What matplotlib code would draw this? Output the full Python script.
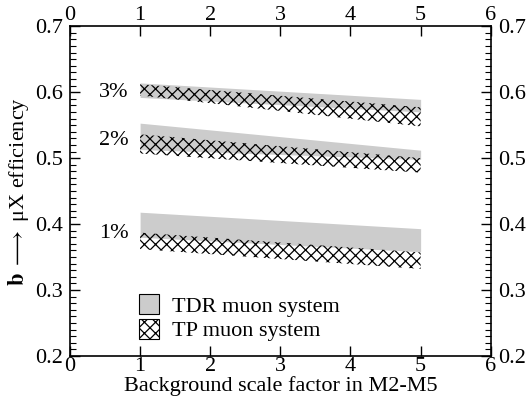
import numpy as np
import matplotlib
matplotlib.use('Agg')
import matplotlib.pyplot as plt
from matplotlib.patches import Patch
from matplotlib.ticker import MultipleLocator

plt.rcParams['font.family'] = ['Liberation Serif', 'DejaVu Serif']
plt.rcParams['mathtext.fontset'] = 'stix'
plt.rcParams['hatch.linewidth'] = 0.9

# band edges at scale factor 1 and 5
x = [1, 5]
labels = ['3%', '2%', '1%']
label_y = [0.600, 0.527, 0.386]
tdr_hi = [[0.614, 0.589], [0.553, 0.512], [0.418, 0.393]]
tdr_lo = [[0.592, 0.570], [0.513, 0.498], [0.380, 0.358]]
tp_hi = [[0.612, 0.577], [0.536, 0.500], [0.387, 0.357]]
tp_lo = [[0.595, 0.548], [0.507, 0.478], [0.362, 0.332]]

fig = plt.figure(figsize=(5.26, 4.09), dpi=100)
ax = fig.add_axes([0.133, 0.1296, 0.8, 0.8064])

for i in range(3):
    ax.fill_between(x, tdr_lo[i], tdr_hi[i], color='#cccccc', lw=0)
    ax.fill_between(x, tp_lo[i], tp_hi[i], facecolor='none', edgecolor='black',
                    hatch='xxx', lw=0)
    ax.text(0.62, label_y[i], labels[i], fontsize=16, ha='center', va='center')

ax.set_xlim(0, 6)
ax.set_ylim(0.2, 0.7)
ax.xaxis.set_major_locator(MultipleLocator(1))
ax.yaxis.set_major_locator(MultipleLocator(0.1))
ax.yaxis.set_minor_locator(MultipleLocator(0.01))
ax.tick_params(which='both', direction='in', top=True, right=True,
               labeltop=True, labelright=True, labelsize=16)
ax.tick_params(axis='x', pad=1)
ax.tick_params(axis='y', pad=5)
ax.tick_params(which='major', length=7, width=1)
ax.tick_params(which='minor', length=4, width=0.8)
ax.tick_params(axis='x', which='minor', bottom=False, top=False)
ax.set_yticks([0.2, 0.3, 0.4, 0.5, 0.6, 0.7])
ax.set_yticklabels(['0.2', '0.3', '0.4', '0.5', '0.6', '0.7'])
for s in ax.spines.values():
    s.set_linewidth(1.2)

ax.set_xlabel('Background scale factor in M2-M5', fontsize=16, labelpad=0)
ax.set_ylabel(r'$\mathbf{b}\ \longrightarrow\ $μX efficiency', fontsize=16, labelpad=3)

handles = [Patch(facecolor='#cccccc', edgecolor='black', lw=0.8),
           Patch(facecolor='white', edgecolor='black', hatch='xxx', lw=0.8)]
ax.legend(handles, ['TDR muon system', 'TP muon system'], loc='upper left',
          bbox_to_anchor=(0.98, 0.294), bbox_transform=ax.transData,
          frameon=False, fontsize=16, handlelength=0.9, handleheight=1.0,
          handletextpad=0.6, labelspacing=0.1, borderaxespad=0, borderpad=0)

fig.savefig('out.png', dpi=100)
